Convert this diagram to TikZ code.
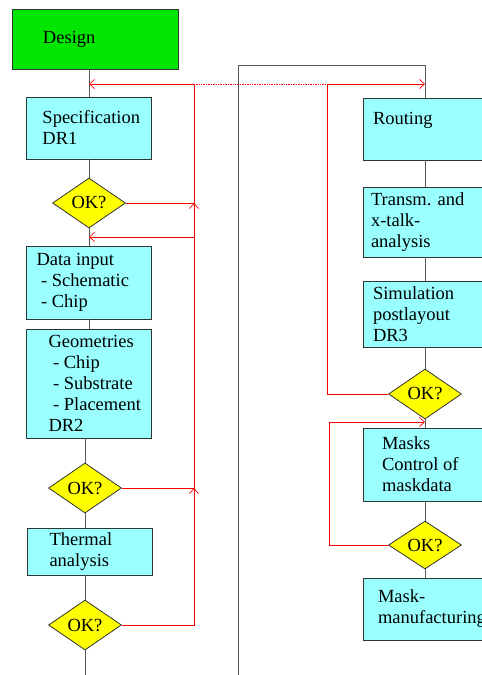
\documentclass[tikz,border=0pt]{standalone}
\usepackage{fontspec}
\setmainfont{Liberation Serif}
\usetikzlibrary{arrows.meta,shapes.geometric}
\definecolor{boxcyan}{RGB}{153,255,255}
\definecolor{boxgreen}{RGB}{0,230,0}
\definecolor{okyellow}{RGB}{255,255,0}

\begin{document}
\begin{tikzpicture}[x=1pt,y=-1pt,
  font=\fontsize{18.5}{21}\selectfont,
  proc/.style={draw=black!80, line width=0.8pt, fill=boxcyan, rectangle,
    inner xsep=0pt, inner ysep=0pt, align=flush left, text width=125pt, minimum width=125pt},
  ind/.style={execute at begin node={\leftskip=#1pt}},
  check/.style={draw=black!80, line width=0.8pt, fill=okyellow, diamond,
    inner sep=0pt, minimum width=73pt, minimum height=50pt},
  flow/.style={draw=black!65, line width=0.9pt},
  back/.style={draw=red, line width=0.7pt},
  backarr/.style={back, -{Straight Barb[length=5pt,width=9pt]}}]
  % Page frame (right column runs past the edge)
  \clip (0,0) rectangle (482,675);

  % --- Left column ---
  \node[proc, fill=boxgreen, text width=166pt, minimum width=166pt,
    minimum height=60pt, ind=31] (design) at (95,39) {Design};
  \node[proc, minimum height=62pt, ind=16] (spec) at (89,128)
    {Specification\\DR1};
  \node[check] (ok1) at (89,203) {OK?};
  \node[proc, minimum height=73pt, ind=10] (datain) at (89,282.5)
    {Data input\\\ - Schematic\\\ - Chip};
  \node[proc, minimum height=109pt, ind=22] (geom) at (89,383.5)
    {Geometries\\\ - Chip\\\ - Substrate\\\ - Placement\\DR2};
  \node[check] (ok2) at (85,488) {OK?};
  \node[proc, minimum height=47pt, ind=22] (thermal) at (90,551.5)
    {Thermal\\analysis};
  \node[check] (ok3) at (85,625) {OK?};

  % --- Right column ---
  \node[proc, minimum width=124pt, text width=124pt, minimum height=62pt,
    ind=10] (routing) at (425,129) {Routing\\~};
  \node[proc, minimum width=124pt, text width=124pt, minimum height=70pt,
    ind=8] (transm) at (425,222) {Transm. and\\x-talk-\\analysis};
  \node[proc, minimum width=124pt, text width=124pt, minimum height=66pt,
    ind=10] (sim) at (425,314) {Simulation\\postlayout\\DR3};
  \node[check] (ok4) at (425,394) {OK?};
  \node[proc, minimum width=124pt, text width=124pt, minimum height=73pt,
    ind=19] (masks) at (425,464.5) {Masks\\Control of\\maskdata};
  \node[check, minimum height=48pt] (ok5) at (425,545) {OK?};
  \node[proc, minimum width=124pt, text width=124pt, minimum height=62pt,
    ind=15] (maskman) at (425,609) {Mask-\\manufacturing};

  % --- Main flow ---
  \coordinate (loopL) at (238,65);
  \coordinate (loopB) at (238,675);
  \draw[flow] (design.south -| spec.north) -- (spec.north);
  \draw[flow] (spec) -- (ok1) -- (datain) -- (geom);
  \draw[flow] (geom.south -| ok2.north) -- (ok2.north);
  \draw[flow] (ok2.south) -- (ok2.south |- thermal.north);
  \draw[flow] (ok3.north |- thermal.south) -- (ok3.north);
  \draw[flow] (ok3.south) -- (ok3.south |- loopB);
  \draw[flow] (loopB) -- (loopL) -- (loopL -| routing.north) -- (routing.north);
  \draw[flow] (routing) -- (transm) -- (sim) -- (ok4) -- (masks) -- (ok5) -- (maskman);

  % --- Feedback loops ---
  \coordinate (rA) at (194,84);
  \coordinate (rC) at (194,237);
  \coordinate (rD) at (327,84);
  \coordinate (rE) at (329,422);
  \draw[backarr] (ok1.east) -- (ok1.east -| rA) -- (rA) -- (rA -| spec.north);
  \draw[backarr] (ok2.east) -- (ok2.east -| rA) -- (ok1.east -| rA);
  \draw[backarr] (ok3.east) -- (ok3.east -| rA) -- (ok2.east -| rA);
  \draw[backarr] (rC) -- (rC -| datain.north);
  \draw[back, densely dotted] (rA) -- (rD);
  \draw[backarr] (rD) -- (rD -| routing.north);
  \draw[back] (ok4.west) -- (ok4.west -| rD) -- (rD);
  \draw[backarr] (ok5.west) -- (ok5.west -| rE) -- (rE) -- (rE -| masks.north);
\end{tikzpicture}
\end{document}
